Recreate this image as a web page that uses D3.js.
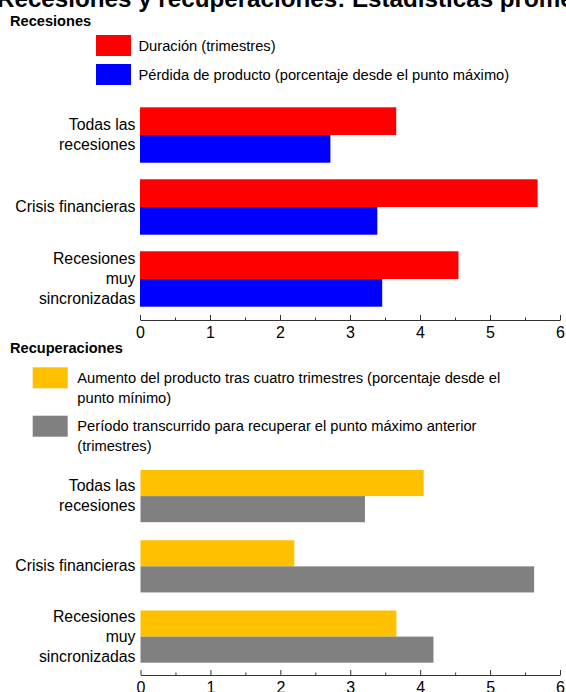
<!DOCTYPE html>
<html>
<head>
<meta charset="utf-8">
<script src="https://cdn.jsdelivr.net/npm/d3@7"></script>
<style>
  body { margin: 0; background: #fff; }
  svg { display: block; font-family: Arial, "Liberation Sans", sans-serif; }
  .axis path, .axis line { stroke: #333; }
</style>
</head>
<body>
<svg id="chart" width="566" height="692"></svg>
<script>
// data
const categories = [
  ['Todas las', 'recesiones'],
  ['Crisis financieras'],
  ['Recesiones', 'muy', 'sincronizadas']
];
const recDuration = [3.66, 5.68, 4.55];      // trimestres
const recOutputLoss = [2.72, 3.39, 3.46];    // % desde el punto máximo
const recovGrowth = [4.05, 2.20, 3.66];      // % desde el punto mínimo
const recovTime = [3.21, 5.63, 4.19];        // trimestres
const xTicks = [0, 1, 2, 3, 4, 5, 6];
const xMinorTicks = [0.5, 1.5, 2.5, 3.5, 4.5, 5.5];

const svg = d3.select('#chart');

// title sits mostly above the top edge, as in the source
svg.append('text')
  .attr('x', -3).attr('y', 7)
  .attr('font-size', 24.2).attr('font-weight', 'bold')
  .text('Recesiones y recuperaciones: Estadísticas promedio');

function panel(opts){
  const g = svg.append('g');

  g.append('text')
    .attr('x', 10).attr('y', opts.headY)
    .attr('font-size', 14.6).attr('font-weight', 'bold')
    .text(opts.title);

  // legend
  const leg = g.selectAll('g.leg')
    .data(opts.series)
    .join('g').attr('class', 'leg')
    .attr('transform', (d, i) => `translate(${opts.legX},${opts.legY[i]})`);
  leg.append('rect')
    .attr('width', 35).attr('height', 21)
    .attr('fill', d => d.color);
  leg.append('text')
    .attr('font-size', 14.7)
    .selectAll('tspan')
    .data(d => d.label)
    .join('tspan')
    .attr('x', opts.legTextX - opts.legX)
    .attr('y', (d, i) => 15.5 + i * 20)
    .text(d => d);

  const x = d3.scaleLinear().domain([0, 6]).range([opts.x0, 560]);
  const y = d3.scaleBand()
    .domain(d3.range(categories.length))
    .range(opts.yRange)
    .paddingInner(opts.pad);
  const ySub = d3.scaleBand()
    .domain(d3.range(opts.series.length))
    .range([0, y.bandwidth()]);

  opts.series.forEach((s, si) => {
    g.append('g').selectAll('rect')
      .data(s.values)
      .join('rect')
      .attr('x', x(0))
      .attr('y', (d, i) => y(i) + ySub(si))
      .attr('width', d => x(d) - x(0))
      .attr('height', ySub.bandwidth())
      .attr('fill', s.color);
  });

  // category labels
  g.append('g').selectAll('text')
    .data(categories)
    .join('text')
    .attr('text-anchor', 'end')
    .attr('font-size', 15.8)
    .each(function(lines, i){
      const cy = y(i) + y.bandwidth() / 2;
      d3.select(this).selectAll('tspan')
        .data(lines)
        .join('tspan')
        .attr('x', 135.5)
        .attr('y', (d, k) => cy + 5 + (k - (lines.length - 1) / 2) * 20)
        .text(d => d);
    });

  // axis, ticks pointing up
  const axis = g.append('g')
    .attr('class', 'axis')
    .attr('transform', `translate(0,${opts.axisY})`)
    .call(d3.axisBottom(x).tickValues(xTicks).tickFormat(d3.format('d'))
      .tickSizeInner(-5).tickSizeOuter(0).tickPadding(7));
  axis.attr('font-family', null);
  axis.selectAll('text').attr('font-size', 16).attr('fill', '#000');
  g.append('g')
    .attr('class', 'axis')
    .attr('transform', `translate(0,${opts.axisY})`)
    .call(d3.axisBottom(x).tickValues(xMinorTicks).tickSizeInner(-2.5).tickSizeOuter(0).tickFormat(''))
    .call(a => a.select('.domain').remove());
}

panel({
  title: 'Recesiones',
  headY: 25.5,
  legX: 96, legTextX: 138.5, legY: [35, 64],
  series: [
    {label: ['Duración (trimestres)'], color: '#ff0000', values: recDuration},
    {label: ['Pérdida de producto (porcentaje desde el punto máximo)'], color: '#0000ff', values: recOutputLoss}
  ],
  x0: 140,
  yRange: [107.3, 306.7], pad: 0.23,
  axisY: 320
});

panel({
  title: 'Recuperaciones',
  headY: 353,
  legX: 32.7, legTextX: 77.3, legY: [367.3, 415.7],
  series: [
    {label: ['Aumento del producto tras cuatro trimestres (porcentaje desde el', 'punto mínimo)'], color: '#ffc000', values: recovGrowth},
    {label: ['Período transcurrido para recuperar el punto máximo anterior', '(trimestres)'], color: '#808080', values: recovTime}
  ],
  x0: 140.5,
  yRange: [470, 662.7], pad: 0.257,
  axisY: 675
});
</script>
</body>
</html>
